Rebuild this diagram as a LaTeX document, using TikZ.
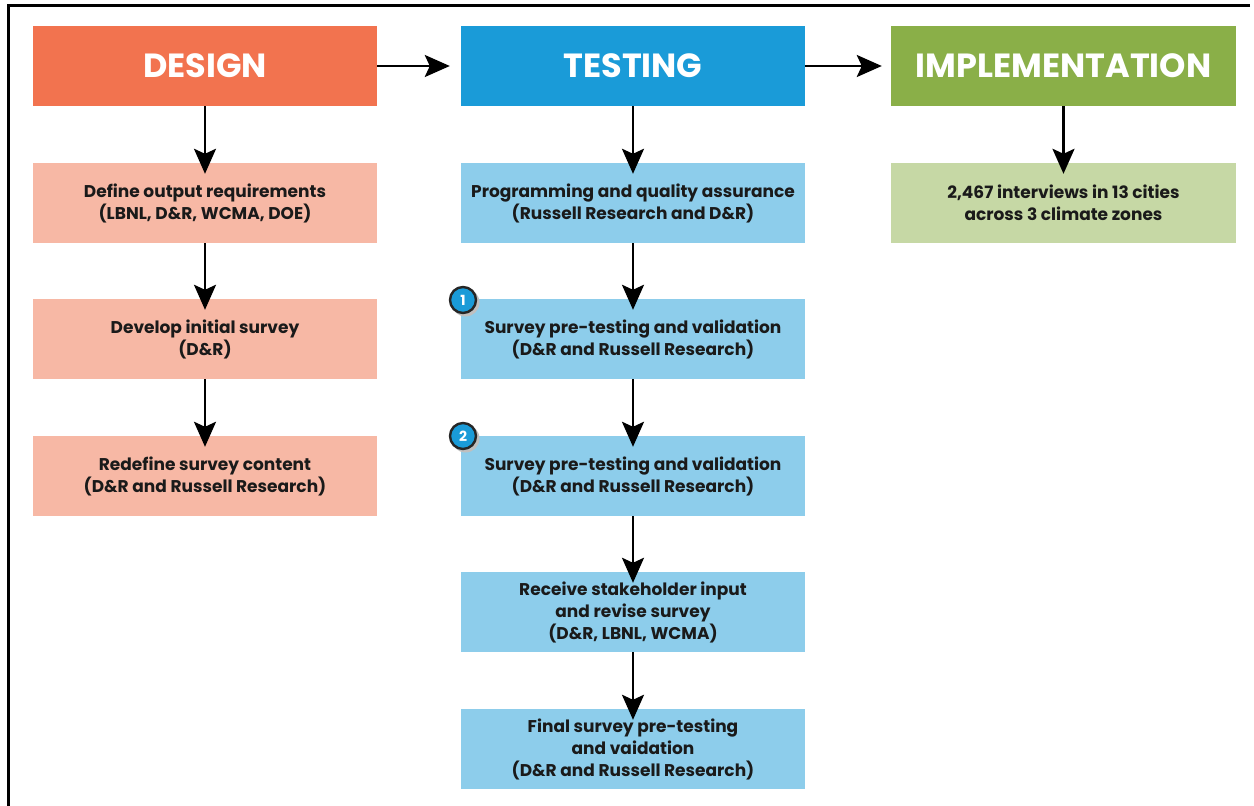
\documentclass[tikz,border=0pt]{standalone}
\usepackage{fontspec}
\setmainfont{Poppins}
\usetikzlibrary{arrows.meta}
\definecolor{dhead}{HTML}{F2734F}
\definecolor{dbox}{HTML}{F7B8A5}
\definecolor{thead}{HTML}{1A9BD8}
\definecolor{tbox}{HTML}{8DCDEB}
\definecolor{ihead}{HTML}{8AAF48}
\definecolor{ibox}{HTML}{C6D8A5}
\definecolor{txt}{HTML}{1A1A1A}
\begin{document}
\begin{tikzpicture}[x=1pt,y=-1pt,
  head/.style={minimum width=344pt,minimum height=80pt,inner sep=0pt,text=white,font=\fontsize{33.5}{36}\selectfont\bfseries},
  stepbox/.style={minimum width=344pt,minimum height=80pt,inner sep=0pt,text=txt,align=center,font=\fontsize{17}{22}\selectfont\bfseries},
  arr/.style={line width=2.6pt,-{Stealth[width=22pt,length=25pt,inset=5pt]}},
  badge/.style={circle,draw=black!85,line width=2.4pt,fill=thead,text=white,minimum size=26pt,inner sep=0pt,font=\fontsize{14}{14}\selectfont\bfseries}]
\useasboundingbox (0,0) rectangle (1254,806);
\fill[white] (0,0) rectangle (1254,806);
\draw[line width=3pt] (1250,5) -- (8.5,5) -- (8.5,806);
% headers
\node[head,fill=dhead] (design) at (205,66) {DESIGN};
\node[head,fill=thead] (testing) at (633,66) {TESTING};
\node[head,fill=ihead,minimum width=345pt] (impl) at (1063.5,66) {IMPLEMENTATION};
% design column
\node[stepbox,fill=dbox] (d1) at (205,203) {Define output requirements\\(LBNL, D\&R, WCMA, DOE)};
\node[stepbox,fill=dbox] (d2) at (205,339) {Develop initial survey\\(D\&R)};
\node[stepbox,fill=dbox] (d3) at (205,476) {Redefine survey content\\(D\&R and Russell Research)};
% testing column
\node[stepbox,fill=tbox] (t1) at (633,203) {Programming and quality assurance\\(Russell Research and D\&R)};
\node[stepbox,fill=tbox] (t2) at (633,339) {Survey pre-testing and validation\\(D\&R and Russell Research)};
\node[stepbox,fill=tbox] (t3) at (633,476) {Survey pre-testing and validation\\(D\&R and Russell Research)};
\node[stepbox,fill=tbox] (t4) at (633,612) {Receive stakeholder input\\and revise survey\\(D\&R, LBNL, WCMA)};
\node[stepbox,fill=tbox] (t5) at (633,749) {Final survey pre-testing\\and vaidation\\(D\&R and Russell Research)};
% implementation
\node[stepbox,fill=ibox,minimum width=345pt] (i1) at (1063.5,203) {2,467 interviews in 13 cities\\across 3 climate zones};
% badges
\fill[black!25] (465.5,302.5) circle (14pt);
\node[badge] (b1) at (463,300) {1};
\fill[black!25] (465.5,438.5) circle (14pt);
\node[badge] (b2) at (463,436) {2};
% arrows
\draw[arr] (design.east) -- ([xshift=-11pt]testing.west);
\draw[arr] (testing.east) -- ([xshift=-9pt]impl.west);
\foreach \a/\b in {design/d1,d1/d2,d2/d3,testing/t1,t1/t2,t2/t3,t3/t4,t4/t5,impl/i1}
  \draw[arr] (\a.south) -- ([yshift=-11pt]\b.north);
\end{tikzpicture}
\end{document}
